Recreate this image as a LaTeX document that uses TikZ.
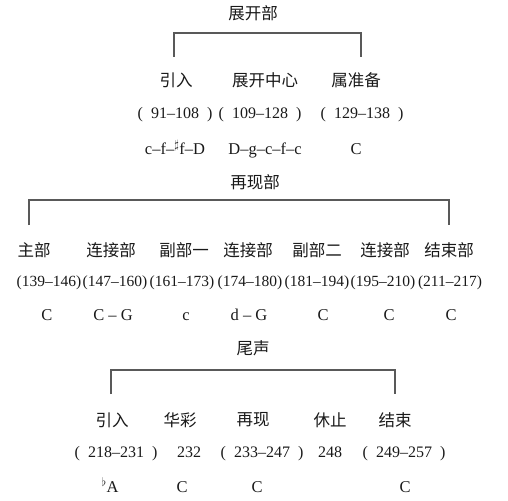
\documentclass[tikz,border=0pt]{standalone}
\usepackage{fontspec}
\setmainfont{Liberation Serif}
\newfontfamily\cjk{Noto Sans CJK SC}
\usetikzlibrary{positioning}
\newcommand{\barsopen}{(\hspace{0.5em}}
\newcommand{\barsclose}{\hspace{0.5em})}

\begin{document}
\begin{tikzpicture}[x=1pt,y=-1pt,
	every node/.style={inner sep=0pt, text=black!90},
	title/.style={font=\cjk\fontsize{16.5}{16.5}\selectfont},
	part/.style={font=\cjk\fontsize{16.5}{16.5}\selectfont},
	bars/.style={font=\fontsize{16}{16}\selectfont, text height=11pt, text depth=3.5pt},
	midbars/.style={font=\fontsize{15.5}{15.5}\selectfont, text height=11pt, text depth=3.5pt},
	keys/.style={font=\fontsize{16.5}{16.5}\selectfont, text height=11pt, text depth=0pt},
	bracket/.style={draw=black!65, line width=1.1pt}]
		
		\useasboundingbox (0,0) rectangle (508,500);
		
		%Development
		\node[title] (devtitle) at (253,13) {展开部};
		\coordinate (devL) at (174,57);
		\coordinate (devR) at (361,57);
		\draw[bracket] (devL) -- ++(0,-24) -| (devR);
		\node[part] (devintro) at (176,80) {引入};
		\node[part] (devcore) at (265,80) {展开中心};
		\node[part] (devretr) at (356,80) {属准备};
		\node[bars] (devintrobars) at (175,115) {\barsopen 91–108\barsclose};
		\node[bars] (devcorebars) at (260,115) {\barsopen 109–128\barsclose};
		\node[bars] (devretrbars) at (362,115) {\barsopen 129–138\barsclose};
		\node[keys] (devintrokey) at (175,149) {c–f–$^\sharp$f–D};
		\node[keys] (devcorekey) at (265,149) {D–g–c–f–c};
		\node[keys] (devretrkey) at (356,149) {C};
		
		%Recapitulation
		\node[title] (rectitle) at (255,182) {再现部};
		\coordinate (recL) at (29,225);
		\coordinate (recR) at (449,225);
		\draw[bracket] (recL) -- ++(0,-25) -| (recR);
		\node[part] (recmain) at (34,250) {主部};
		\node[part] (reclinka) at (111,250) {连接部};
		\node[part] (recsuba) at (184,250) {副部一};
		\node[part] (reclinkb) at (248,250) {连接部};
		\node[part] (recsubb) at (317,250) {副部二};
		\node[part] (reclinkc) at (385,250) {连接部};
		\node[part] (recend) at (449,250) {结束部};
		\node[midbars] (recmainbars) at (49,283) {(139–146)};
		\node[midbars] (reclinkabars) at (115,283) {(147–160)};
		\node[midbars] (recsubabars) at (182,283) {(161–173)};
		\node[midbars] (reclinkbbars) at (250,283) {(174–180)};
		\node[midbars] (recsubbbars) at (317,283) {(181–194)};
		\node[midbars] (reclinkcbars) at (383,283) {(195–210)};
		\node[midbars] (recendbars) at (450,283) {(211–217)};
		\node[keys] (recmainkey) at (47,315) {C};
		\node[keys] (reclinkakey) at (113,315) {C – G};
		\node[keys] (recsubakey) at (186,315) {c};
		\node[keys] (reclinkbkey) at (249,315) {d – G};
		\node[keys] (recsubbkey) at (323,315) {C};
		\node[keys] (reclinkckey) at (389,315) {C};
		\node[keys] (recendkey) at (451,315) {C};
		
		%Coda
		\node[title] (codatitle) at (253,348) {尾声};
		\coordinate (codaL) at (111,394);
		\coordinate (codaR) at (395,394);
		\draw[bracket] (codaL) -- ++(0,-24) -| (codaR);
		\node[part] (codaintro) at (112,420) {引入};
		\node[part] (codacad) at (180,420) {华彩};
		\node[part] (codarep) at (253,420) {再现};
		\node[part] (codarest) at (330,420) {休止};
		\node[part] (codaend) at (395,420) {结束};
		\node[bars] (codaintrobars) at (116,454) {\barsopen 218–231\barsclose};
		\node[bars] (codacadbars) at (189,454) {232};
		\node[bars] (codarepbars) at (262,454) {\barsopen 233–247\barsclose};
		\node[bars] (codarestbars) at (330,454) {248};
		\node[bars] (codaendbars) at (404,454) {\barsopen 249–257\barsclose};
		\node[keys] (codaintrokey) at (110,487) {$^\flat$A};
		\node[keys] (codacadkey) at (182,487) {C};
		\node[keys] (codarepkey) at (257,487) {C};
		\node[keys] (codaendkey) at (405,487) {C};
		
\end{tikzpicture}
\end{document}
